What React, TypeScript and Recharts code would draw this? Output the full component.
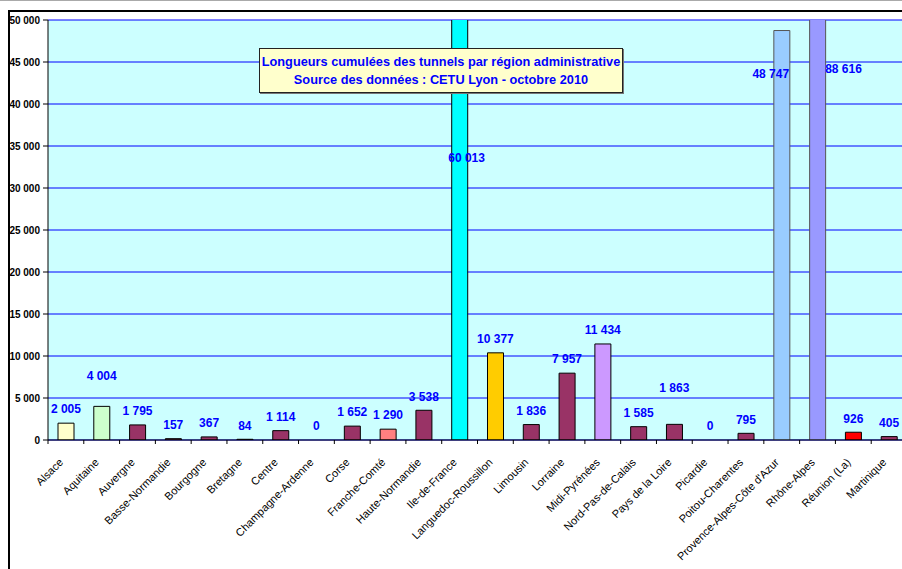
import React from "react";
import { ComposedChart, Bar, Line, XAxis, YAxis, CartesianGrid, Cell, LabelList } from "recharts";

const regions = [
  "Alsace", "Aquitaine", "Auvergne", "Basse-Normandie", "Bourgogne", "Bretagne", "Centre",
  "Champagne-Ardenne", "Corse", "Franche-Comté", "Haute-Normandie", "Ile-de-France",
  "Languedoc-Roussillon", "Limousin", "Lorraine", "Midi-Pyrénées", "Nord-Pas-de-Calais",
  "Pays de la Loire", "Picardie", "Poitou-Charentes", "Provence-Alpes-Côte d'Azur",
  "Rhône-Alpes", "Réunion (La)", "Martinique",
];

const lengths = [
  2005, 4004, 1795, 157, 367, 84, 1114, 0, 1652, 1290, 3538, 60013,
  10377, 1836, 7957, 11434, 1585, 1863, 0, 795, 48747, 88616, 926, 405,
];

const yTicks = [0, 5000, 10000, 15000, 20000, 25000, 30000, 35000, 40000, 45000, 50000];

const titleLines = [
  "Longueurs cumulées des tunnels par région administrative",
  "Source des données : CETU Lyon - octobre 2010",
];

// styles (separate from data)
const barColors = [
  "#FFFFCC", "#CCFFCC", "#993366", "#993366", "#993366", "#993366", "#993366",
  "#993366", "#993366", "#FF8080", "#993366", "#00FFFF",
  "#FFCC00", "#993366", "#993366", "#CC99FF", "#993366",
  "#993366", "#993366", "#993366", "#99CCFF",
  "#9999FF", "#FF0000", "#993366",
];

// manual label nudges (pixels), as in the original Excel chart
const labelNudge: Record<number, { dx: number; dy: number; anchorY?: number }> = {
  1: { dx: 0, dy: -17 },
  11: { dx: 7, dy: 0, anchorY: 158 },
  17: { dx: 0, dy: -23 },
  20: { dx: -11, dy: 0, anchorY: 74 },
  21: { dx: 26, dy: 0, anchorY: 69 },
};

const data = regions.map((r, i) => ({ region: r, value: lengths[i] }));

const fmt = (n: number) => String(n).replace(/\B(?=(\d{3})+(?!\d))/g, " ");

const FONT = "'Liberation Sans', Arial, sans-serif";
const CHART_W = 910;
const CHART_H = 569;
const PLOT_LEFT = 48;
const PLOT_RIGHT = 907;
const BAND = (PLOT_RIGHT - PLOT_LEFT) / regions.length;

const XTick = (props: any) => {
  const { x, y, payload } = props;
  const bx = x - BAND / 2;
  const ax = x - 2;
  const ay = y + 23;
  return (
    <g>
      <line x1={bx} x2={bx} y1={y} y2={y + 4} stroke="#000" strokeWidth={1} />
      <text
        x={ax}
        y={ay}
        transform={`rotate(-45, ${ax}, ${ay})`}
        textAnchor="end"
        fontFamily={FONT}
        fontSize={11}
        fill="#000"
      >
        {payload.value}
      </text>
    </g>
  );
};

const renderLabel = (props: any) => {
  const { x, y, index, value } = props;
  const nudge = labelNudge[index];
  let cx = x;
  let cy = y - 14;
  if (nudge) {
    cx += nudge.dx;
    cy = nudge.anchorY !== undefined ? nudge.anchorY : cy + nudge.dy;
  }
  return (
    <text
      key={`lbl-${index}`}
      x={cx}
      y={cy}
      dy="0.36em"
      textAnchor="middle"
      fontFamily={FONT}
      fontSize={12}
      fontWeight="bold"
      fill="#0000FF"
    >
      {fmt(value)}
    </text>
  );
};

export default function App() {
  return (
    <div
      style={{
        position: "absolute",
        left: 0,
        top: 0,
        width: 902,
        height: 569,
        overflow: "hidden",
        background: "#fff",
      }}
    >
      <div style={{ position: "absolute", left: 0, top: 0, width: 902, height: 1, background: "#aaa" }} />
      <div
        style={{
          position: "absolute",
          left: 8,
          top: 10,
          width: 1000,
          height: 1000,
          borderLeft: "2px solid #000",
          borderTop: "2px solid #000",
          boxSizing: "border-box",
        }}
      />
      <div style={{ position: "absolute", left: 0, top: 0 }}>
        <ComposedChart
          width={CHART_W}
          height={CHART_H}
          data={data}
          margin={{ top: 20, right: CHART_W - PLOT_RIGHT, bottom: 0, left: 0 }}
          barSize={16}
        >
          <CartesianGrid
            horizontal={true}
            vertical={false}
            fill="#CCFFFF"
            stroke="#0000FF"
            strokeWidth={1}
          />
          <XAxis
            dataKey="region"
            interval={0}
            height={129}
            tickSize={0}
            tickMargin={0}
            tickLine={false}
            axisLine={{ stroke: "#000", strokeWidth: 1 }}
            tick={<XTick />}
          />
          <YAxis
            width={PLOT_LEFT}
            domain={[0, 50000]}
            ticks={yTicks}
            allowDataOverflow={true}
            interval={0}
            tickSize={5}
            tickMargin={3}
            tickLine={{ stroke: "#000" }}
            axisLine={{ stroke: "#000", strokeWidth: 1 }}
            tickFormatter={(v: number) => fmt(v)}
            tick={{ fontFamily: FONT, fontSize: 10, fontWeight: "bold", fill: "#000" }}
          />
          <Bar dataKey="value" isAnimationActive={false} stroke="#000" strokeWidth={1}>
            {data.map((d, i) => (
              <Cell key={d.region} fill={barColors[i]} stroke={i === 20 || i === 21 ? "#555" : "#000"} />
            ))}
          </Bar>
          <Line
            dataKey="value"
            stroke="none"
            dot={false}
            activeDot={false}
            isAnimationActive={false}
            legendType="none"
          >
            <LabelList dataKey="value" content={renderLabel} />
          </Line>
        </ComposedChart>
      </div>
      <div
        style={{
          position: "absolute",
          left: 259,
          top: 48,
          width: 364,
          height: 45,
          boxSizing: "border-box",
          background: "#FFFFCC",
          border: "1px solid #222",
          boxShadow: "1px 1px 0 #777",
          paddingTop: 4,
          textAlign: "center",
          color: "#0000FF",
          fontFamily: FONT,
          fontWeight: "bold",
          fontSize: 12.75,
          lineHeight: "18px",
          whiteSpace: "nowrap",
        }}
      >
        {titleLines.map((t) => (
          <div key={t}>{t}</div>
        ))}
      </div>
    </div>
  );
}
